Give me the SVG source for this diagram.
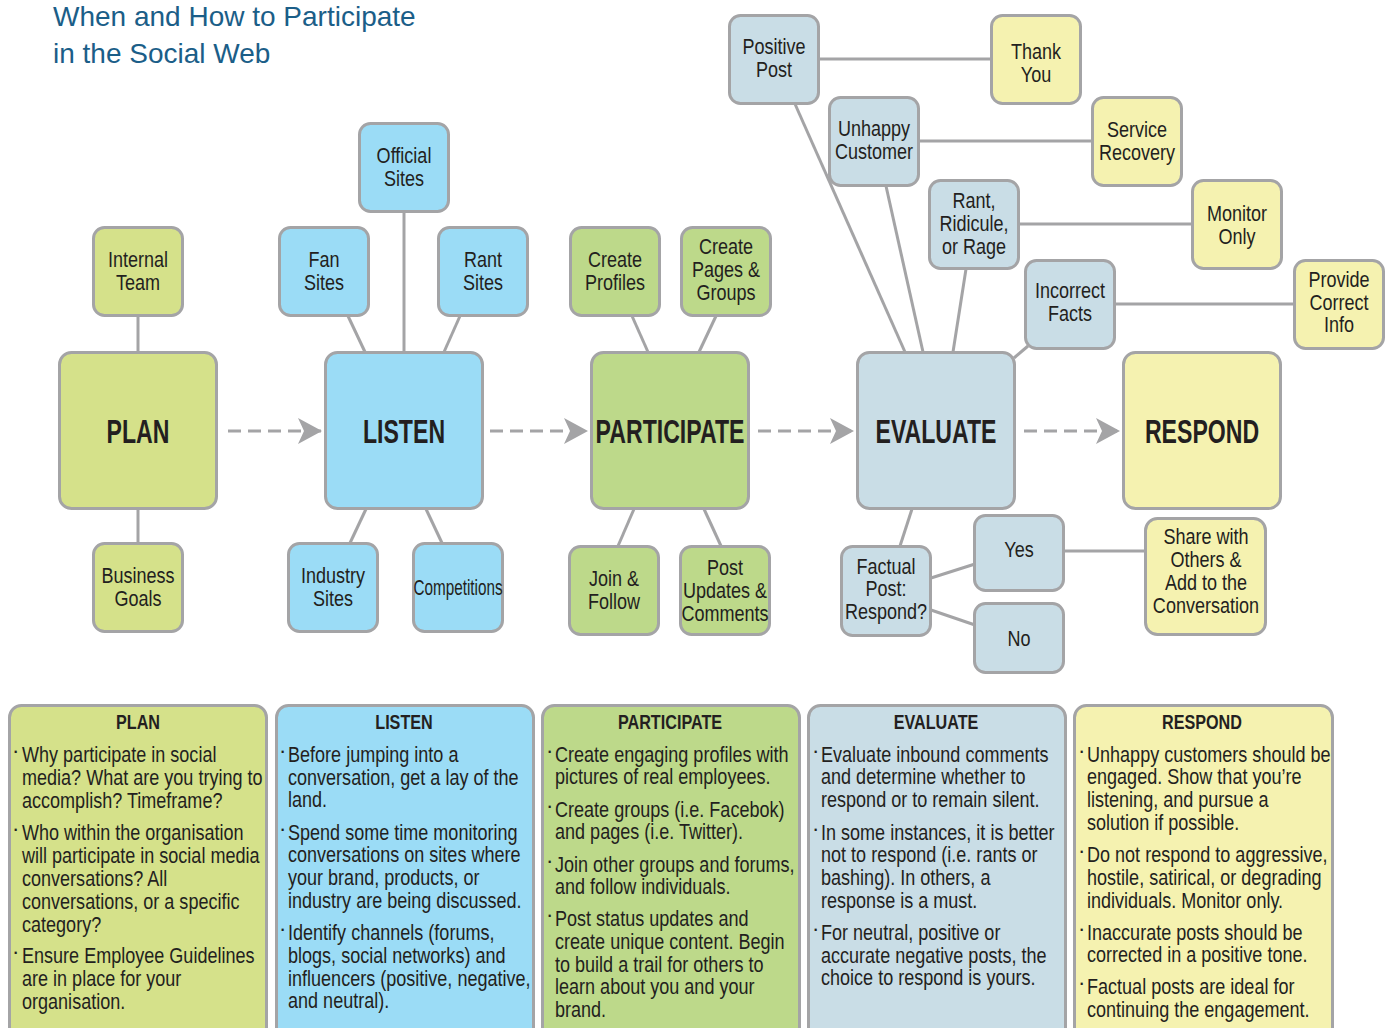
<svg xmlns="http://www.w3.org/2000/svg" width="1390" height="1028" viewBox="0 0 1390 1028">
<style>
.n{stroke:#a4a4a6;stroke-width:3}
.pl{fill:#d5e18a}.li{fill:#9bdcf6}.pa{fill:#bdd98a}.ev{fill:#c9dde6}.re{fill:#f5f2b0}
text{font-family:"Liberation Sans",Arial,sans-serif;fill:#231f20}
.l{font-size:22px;text-anchor:middle}
.big{font-size:33px;font-weight:bold;text-anchor:middle}
.h{font-size:21px;font-weight:bold;text-anchor:middle}
.t{font-size:22px}
.title{font-size:28px;fill:#1b5e88}
.c{stroke:#a4a4a6;stroke-width:3;fill:none}
.d{stroke:#a4a4a6;stroke-width:3;fill:none;stroke-dasharray:13 7}
</style>
<defs>
<marker id="ah" markerUnits="userSpaceOnUse" markerWidth="26" markerHeight="28" refX="24" refY="13" orient="auto">
<path d="M0,0 L24,13 L0,26 L6,13 Z" fill="#a4a4a6"/>
</marker>
</defs>
<rect width="1390" height="1028" fill="#ffffff"/>
<g id="title">
<text class="title" x="53" y="26">When and How to Participate</text>
<text class="title" x="53" y="63">in the Social Web</text>
</g>
<g id="connectors">
<line class="c" x1="138" y1="316" x2="138" y2="352"/>
<line class="c" x1="138" y1="509" x2="138" y2="543"/>
<line class="c" x1="404" y1="212" x2="404" y2="352"/>
<line class="c" x1="348" y1="316" x2="365" y2="352"/>
<line class="c" x1="460" y1="316" x2="444" y2="352"/>
<line class="c" x1="366" y1="509" x2="350" y2="543"/>
<line class="c" x1="426" y1="509" x2="442" y2="543"/>
<line class="c" x1="632" y1="316" x2="648" y2="352"/>
<line class="c" x1="716" y1="316" x2="699" y2="352"/>
<line class="c" x1="634" y1="509" x2="618" y2="546"/>
<line class="c" x1="704" y1="509" x2="721" y2="546"/>
<line class="c" x1="795" y1="104" x2="905" y2="352"/>
<line class="c" x1="886" y1="186" x2="923" y2="352"/>
<line class="c" x1="966" y1="269" x2="953" y2="352"/>
<line class="c" x1="1028" y1="346" x2="1014" y2="358"/>
<line class="c" x1="912" y1="509" x2="900" y2="546"/>
<line class="c" x1="819" y1="59" x2="992" y2="59"/>
<line class="c" x1="919" y1="141" x2="1093" y2="141"/>
<line class="c" x1="1019" y1="224" x2="1193" y2="224"/>
<line class="c" x1="1115" y1="304" x2="1295" y2="304"/>
<line class="c" x1="1064" y1="551" x2="1146" y2="551"/>
<line class="c" x1="931" y1="578" x2="975" y2="564"/>
<line class="c" x1="931" y1="610" x2="975" y2="625"/>
<line class="d" x1="228" y1="431" x2="322" y2="431" marker-end="url(#ah)"/>
<line class="d" x1="490" y1="431" x2="588" y2="431" marker-end="url(#ah)"/>
<line class="d" x1="758" y1="431" x2="854" y2="431" marker-end="url(#ah)"/>
<line class="d" x1="1024" y1="431" x2="1120" y2="431" marker-end="url(#ah)"/>
</g>
<g id="plan"><rect class="n pl" x="59.5" y="352.5" width="157" height="156" rx="12"/><text class="big" transform="translate(138 443) scale(0.7 1)">PLAN</text></g>
<g id="listen"><rect class="n li" x="325.5" y="352.5" width="157" height="156" rx="12"/><text class="big" transform="translate(404 443) scale(0.7 1)">LISTEN</text></g>
<g id="participate"><rect class="n pa" x="591.5" y="352.5" width="157" height="156" rx="12"/><text class="big" transform="translate(670 443) scale(0.7 1)">PARTICIPATE</text></g>
<g id="evaluate"><rect class="n ev" x="857.5" y="352.5" width="157" height="156" rx="12"/><text class="big" transform="translate(936 443) scale(0.7 1)">EVALUATE</text></g>
<g id="respond"><rect class="n re" x="1123.5" y="352.5" width="157" height="156" rx="12"/><text class="big" transform="translate(1202 443) scale(0.7 1)">RESPOND</text></g>

<g id="internal-team"><rect class="n pl" x="93.5" y="227.5" width="89" height="88" rx="11"/><g transform="translate(138 0) scale(0.82 1)"><text class="l" y="267">Internal</text><text class="l" y="290">Team</text></g></g>
<g id="business-goals"><rect class="n pl" x="93.5" y="543.5" width="89" height="88" rx="11"/><g transform="translate(138 0) scale(0.82 1)"><text class="l" y="583">Business</text><text class="l" y="606">Goals</text></g></g>
<g id="official-sites"><rect class="n li" x="359.5" y="123.5" width="89" height="88" rx="11"/><g transform="translate(404 0) scale(0.82 1)"><text class="l" y="163">Official</text><text class="l" y="186">Sites</text></g></g>
<g id="fan-sites"><rect class="n li" x="279.5" y="227.5" width="89" height="88" rx="11"/><g transform="translate(324 0) scale(0.82 1)"><text class="l" y="267">Fan</text><text class="l" y="290">Sites</text></g></g>
<g id="rant-sites"><rect class="n li" x="438.5" y="227.5" width="89" height="88" rx="11"/><g transform="translate(483 0) scale(0.82 1)"><text class="l" y="267">Rant</text><text class="l" y="290">Sites</text></g></g>
<g id="industry-sites"><rect class="n li" x="288.5" y="543.5" width="89" height="88" rx="11"/><g transform="translate(333 0) scale(0.82 1)"><text class="l" y="583">Industry</text><text class="l" y="606">Sites</text></g></g>
<g id="competitions"><rect class="n li" x="413.5" y="543.5" width="89" height="88" rx="11"/><g transform="translate(458 0) scale(0.695 1)"><text class="l" y="595">Competitions</text></g></g>
<g id="create-profiles"><rect class="n pa" x="570.5" y="227.5" width="89" height="88" rx="11"/><g transform="translate(615 0) scale(0.82 1)"><text class="l" y="267">Create</text><text class="l" y="290">Profiles</text></g></g>
<g id="create-pages"><rect class="n pa" x="681.5" y="227.5" width="89" height="88" rx="11"/><g transform="translate(726 0) scale(0.82 1)"><text class="l" y="254">Create</text><text class="l" y="277">Pages &amp;</text><text class="l" y="300">Groups</text></g></g>
<g id="join-follow"><rect class="n pa" x="569.5" y="546.5" width="89" height="88" rx="11"/><g transform="translate(614 0) scale(0.82 1)"><text class="l" y="586">Join &amp;</text><text class="l" y="609">Follow</text></g></g>
<g id="post-updates"><rect class="n pa" x="680.5" y="546.5" width="89" height="88" rx="11"/><g transform="translate(725 0) scale(0.82 1)"><text class="l" y="575">Post</text><text class="l" y="598">Updates &amp;</text><text class="l" y="621">Comments</text></g></g>
<g id="positive-post"><rect class="n ev" x="729.5" y="15.5" width="89" height="88" rx="11"/><g transform="translate(774 0) scale(0.82 1)"><text class="l" y="54">Positive</text><text class="l" y="77">Post</text></g></g>
<g id="thank-you"><rect class="n re" x="991.5" y="15.5" width="89" height="88" rx="11"/><g transform="translate(1036 0) scale(0.82 1)"><text class="l" y="59">Thank</text><text class="l" y="82">You</text></g></g>
<g id="unhappy-customer"><rect class="n ev" x="829.5" y="97.5" width="89" height="88" rx="11"/><g transform="translate(874 0) scale(0.82 1)"><text class="l" y="136">Unhappy</text><text class="l" y="159">Customer</text></g></g>
<g id="service-recovery"><rect class="n re" x="1092.5" y="97.5" width="89" height="88" rx="11"/><g transform="translate(1137 0) scale(0.82 1)"><text class="l" y="137">Service</text><text class="l" y="160">Recovery</text></g></g>
<g id="rant-ridicule"><rect class="n ev" x="929.5" y="180.5" width="89" height="88" rx="11"/><g transform="translate(974 0) scale(0.82 1)"><text class="l" y="208">Rant,</text><text class="l" y="231">Ridicule,</text><text class="l" y="254">or Rage</text></g></g>
<g id="monitor-only"><rect class="n re" x="1192.5" y="180.5" width="89" height="88" rx="11"/><g transform="translate(1237 0) scale(0.82 1)"><text class="l" y="221">Monitor</text><text class="l" y="244">Only</text></g></g>
<g id="incorrect-facts"><rect class="n ev" x="1025.5" y="260.5" width="89" height="88" rx="11"/><g transform="translate(1070 0) scale(0.82 1)"><text class="l" y="298">Incorrect</text><text class="l" y="321">Facts</text></g></g>
<g id="provide-info"><rect class="n re" x="1294.5" y="260.5" width="89" height="88" rx="11"/><g transform="translate(1339 0) scale(0.82 1)"><text class="l" y="287">Provide</text><text class="l" y="310">Correct</text><text class="l" y="332">Info</text></g></g>
<g id="factual-post"><rect class="n ev" x="841.5" y="546.5" width="89" height="89" rx="11"/><g transform="translate(886 0) scale(0.82 1)"><text class="l" y="574">Factual</text><text class="l" y="596">Post:</text><text class="l" y="619">Respond?</text></g></g>
<g id="yes"><rect class="n ev" x="974.5" y="515.5" width="89" height="75" rx="11"/><g transform="translate(1019 0) scale(0.82 1)"><text class="l" y="557">Yes</text></g></g>
<g id="no"><rect class="n ev" x="974.5" y="603.5" width="89" height="69" rx="11"/><g transform="translate(1019 0) scale(0.82 1)"><text class="l" y="646">No</text></g></g>
<g id="share"><rect class="n re" x="1145.5" y="518.5" width="120" height="116" rx="12"/><g transform="translate(1206 0) scale(0.82 1)"><text class="l" y="544">Share with</text><text class="l" y="567">Others &amp;</text><text class="l" y="590">Add to the</text><text class="l" y="613">Conversation</text></g></g>

<g id="panel-plan"><rect class="n pl" x="9.5" y="705.5" width="257" height="340" rx="12"/>
<text class="h" transform="translate(138 729) scale(0.77 1)">PLAN</text>
<text class="t" x="12" y="758">·</text><text class="t" x="12" y="836">·</text><text class="t" x="12" y="959">·</text>
<g transform="translate(22 0) scale(0.82 1)">
<text class="t" y="762">Why participate in social</text>
<text class="t" y="785">media? What are you trying to</text>
<text class="t" y="808">accomplish? Timeframe?</text>
<text class="t" y="840">Who within the organisation</text>
<text class="t" y="863">will participate in social media</text>
<text class="t" y="886">conversations? All</text>
<text class="t" y="909">conversations, or a specific</text>
<text class="t" y="932">category?</text>
<text class="t" y="963">Ensure Employee Guidelines</text>
<text class="t" y="986">are in place for your</text>
<text class="t" y="1009">organisation.</text>
</g>
</g>
<g id="panel-listen"><rect class="n li" x="276.5" y="705.5" width="257" height="340" rx="12"/>
<text class="h" transform="translate(404 729) scale(0.77 1)">LISTEN</text>
<text class="t" x="279" y="758">·</text><text class="t" x="279" y="836">·</text><text class="t" x="279" y="936">·</text>
<g transform="translate(288 0) scale(0.82 1)">
<text class="t" y="762">Before jumping into a</text>
<text class="t" y="785">conversation, get a lay of the</text>
<text class="t" y="807">land.</text>
<text class="t" y="840">Spend some time monitoring</text>
<text class="t" y="862">conversations on sites where</text>
<text class="t" y="885">your brand, products, or</text>
<text class="t" y="908">industry are being discussed.</text>
<text class="t" y="940">Identify channels (forums,</text>
<text class="t" y="963">blogs, social networks) and</text>
<text class="t" y="986">influencers (positive, negative,</text>
<text class="t" y="1008">and neutral).</text>
</g>
</g>
<g id="panel-participate"><rect class="n pa" x="542.5" y="705.5" width="257" height="340" rx="12"/>
<text class="h" transform="translate(670 729) scale(0.77 1)">PARTICIPATE</text>
<text class="t" x="546" y="758">·</text><text class="t" x="546" y="813">·</text><text class="t" x="546" y="868">·</text><text class="t" x="546" y="922">·</text>
<g transform="translate(555 0) scale(0.82 1)">
<text class="t" y="762">Create engaging profiles with</text>
<text class="t" y="784">pictures of real employees.</text>
<text class="t" y="817">Create groups (i.e. Facebok)</text>
<text class="t" y="839">and pages (i.e. Twitter).</text>
<text class="t" y="872">Join other groups and forums,</text>
<text class="t" y="894">and follow individuals.</text>
<text class="t" y="926">Post status updates and</text>
<text class="t" y="949">create unique content. Begin</text>
<text class="t" y="972">to build a trail for others to</text>
<text class="t" y="994">learn about you and your</text>
<text class="t" y="1017">brand.</text>
</g>
</g>
<g id="panel-evaluate"><rect class="n ev" x="808.5" y="705.5" width="257" height="340" rx="12"/>
<text class="h" transform="translate(936 729) scale(0.77 1)">EVALUATE</text>
<text class="t" x="812" y="758">·</text><text class="t" x="812" y="836">·</text><text class="t" x="812" y="936">·</text>
<g transform="translate(821 0) scale(0.82 1)">
<text class="t" y="762">Evaluate inbound comments</text>
<text class="t" y="784">and determine whether to</text>
<text class="t" y="807">respond or to remain silent.</text>
<text class="t" y="840">In some instances, it is better</text>
<text class="t" y="862">not to respond (i.e. rants or</text>
<text class="t" y="885">bashing). In others, a</text>
<text class="t" y="908">response is a must.</text>
<text class="t" y="940">For neutral, positive or</text>
<text class="t" y="963">accurate negative posts, the</text>
<text class="t" y="985">choice to respond is yours.</text>
</g>
</g>
<g id="panel-respond"><rect class="n re" x="1074.5" y="705.5" width="258" height="340" rx="12"/>
<text class="h" transform="translate(1202 729) scale(0.77 1)">RESPOND</text>
<text class="t" x="1078" y="758">·</text><text class="t" x="1078" y="858">·</text><text class="t" x="1078" y="936">·</text><text class="t" x="1078" y="990">·</text>
<g transform="translate(1087 0) scale(0.82 1)">
<text class="t" y="762">Unhappy customers should be</text>
<text class="t" y="784">engaged. Show that you’re</text>
<text class="t" y="807">listening, and pursue a</text>
<text class="t" y="830">solution if possible.</text>
<text class="t" y="862">Do not respond to aggressive,</text>
<text class="t" y="885">hostile, satirical, or degrading</text>
<text class="t" y="908">individuals. Monitor only.</text>
<text class="t" y="940">Inaccurate posts should be</text>
<text class="t" y="962">corrected in a positive tone.</text>
<text class="t" y="994">Factual posts are ideal for</text>
<text class="t" y="1017">continuing the engagement.</text>
</g>
</g>
</svg>
